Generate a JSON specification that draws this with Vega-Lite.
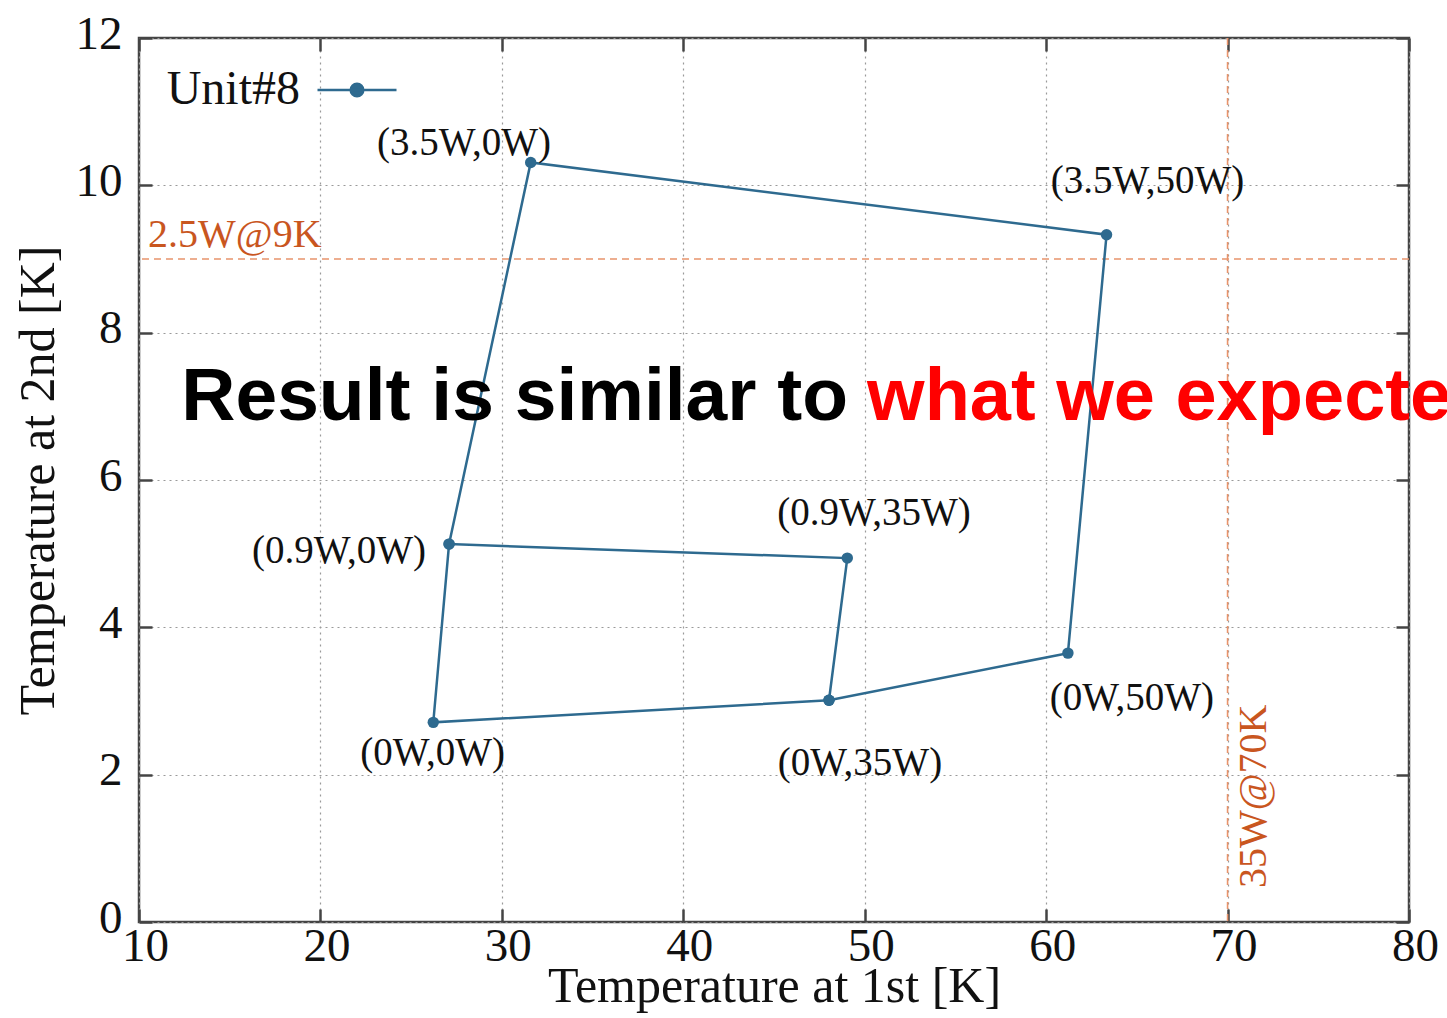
{
  "$schema": "https://vega.github.io/schema/vega-lite/v6.json",
  "width": 1270,
  "height": 884,
  "autosize": {"type": "none"},
  "padding": {"left": 139, "top": 38, "right": 38, "bottom": 96},
  "background": "white",
  "config": {
    "font": "Liberation Serif",
    "view": {"stroke": "#444", "strokeWidth": 2.5}
  },
  "datasets": {
    "pts": [
      {"seq": 1, "t1": 48.03, "t2": 3.01},
      {"seq": 2, "t1": 49.04, "t2": 4.94},
      {"seq": 3, "t1": 27.09, "t2": 5.13},
      {"seq": 4, "t1": 26.22, "t2": 2.71},
      {"seq": 5, "t1": 48.03, "t2": 3.01},
      {"seq": 6, "t1": 61.2, "t2": 3.65},
      {"seq": 7, "t1": 63.33, "t2": 9.33},
      {"seq": 8, "t1": 31.59, "t2": 10.31},
      {"seq": 9, "t1": 27.09, "t2": 5.13}
    ],
    "labels": [
      {"label": "(3.5W,0W)", "lx": 27.91, "ly": 10.41},
      {"label": "(3.5W,50W)", "lx": 65.59, "ly": 9.9},
      {"label": "(0.9W,0W)", "lx": 21.02, "ly": 4.87},
      {"label": "(0W,0W)", "lx": 26.18, "ly": 2.13},
      {"label": "(0.9W,35W)", "lx": 50.51, "ly": 5.39},
      {"label": "(0W,35W)", "lx": 49.74, "ly": 2.0},
      {"label": "(0W,50W)", "lx": 64.73, "ly": 2.88}
    ],
    "refs": [
      {"label": "2.5W@9K", "rx": 10.5, "ry": 9.16, "ang": 0},
      {"label": "35W@70K", "rx": 72.1, "ry": 0.46, "ang": 270}
    ],
    "hline": [{"v": 9}],
    "vline": [{"v": 70}],
    "overlayBlack": [{"txt": "Result is similar to", "ox": 12.33, "oy": 6.814}],
    "overlayRed": [{"txt": "what we expected", "ox": 50.13, "oy": 6.814}]
  },
  "resolve": {"axis": {"x": "independent", "y": "independent"}},
  "layer": [
    {
      "data": {"name": "hline"},
      "mark": {"type": "rule", "color": "#e8946c", "strokeWidth": 1.6, "strokeDash": [7, 5]},
      "encoding": {"y": {"field": "v", "type": "quantitative", "scale": {"domain": [0, 12], "nice": false}, "axis": null}}
    },
    {
      "data": {"name": "vline"},
      "mark": {"type": "rule", "color": "#e8946c", "strokeWidth": 1.6, "strokeDash": [7, 5]},
      "encoding": {"x": {"field": "v", "type": "quantitative", "scale": {"domain": [10, 80], "nice": false, "zero": false}, "axis": null}}
    },
    {
      "data": {"name": "pts"},
      "mark": {"type": "line", "strokeWidth": 2.5, "point": {"filled": true, "size": 130}},
      "encoding": {
        "x": {
          "field": "t1", "type": "quantitative",
          "scale": {"domain": [10, 80], "nice": false, "zero": false},
          "axis": {
            "values": [10, 20, 30, 40, 50, 60, 70, 80],
            "grid": true, "gridColor": "#9a9a9a", "gridDash": [2, 4], "gridWidth": 1.2,
            "domain": false, "ticks": true, "tickSize": -13, "tickWidth": 2.5, "tickColor": "#444",
            "labelFont": "Liberation Serif", "labelFontSize": 47, "labelColor": "#111",
            "labelBaseline": "alphabetic", "labelPadding": 51, "labelOffset": 6, "labelFlush": false,
            "title": "Temperature at 1st [K]", "titleFont": "Liberation Serif", "titleFontSize": 50,
            "titleFontWeight": "normal", "titleColor": "#111", "titleBaseline": "alphabetic", "titleY": 79
          }
        },
        "y": {
          "field": "t2", "type": "quantitative",
          "scale": {"domain": [0, 12], "nice": false},
          "axis": {
            "values": [0, 2, 4, 6, 8, 10, 12],
            "grid": true, "gridColor": "#9a9a9a", "gridDash": [2, 4], "gridWidth": 1.2,
            "domain": false, "ticks": true, "tickSize": -13, "tickWidth": 2.5, "tickColor": "#444",
            "labelFont": "Liberation Serif", "labelFontSize": 47, "labelColor": "#111",
            "labelBaseline": "alphabetic", "labelAlign": "right", "labelPadding": 30, "labelOffset": 10, "labelFlush": false,
            "title": "Temperature at 2nd [K]", "titleFont": "Liberation Serif", "titleFontSize": 50,
            "titleFontWeight": "normal", "titleColor": "#111", "titleBaseline": "alphabetic", "titleAngle": 270, "titleX": -86
          }
        },
        "order": {"field": "seq"},
        "color": {
          "datum": "Unit#8", "type": "nominal",
          "scale": {"range": ["#2e6a8f"]},
          "legend": {
            "orient": "none", "legendX": 177, "legendY": 11, "title": null, "padding": 0,
            "labelFont": "Liberation Serif", "labelFontSize": 48, "labelColor": "#111",
            "labelAlign": "right", "labelBaseline": "middle", "labelOffset": -98,
            "symbolType": "M-1,0H1M0.16,0A0.16,0.16,0,1,1,-0.16,0A0.16,0.16,0,1,1,0.16,0",
            "symbolSize": 6241, "symbolStrokeWidth": 2.5,
            "symbolFillColor": "#2e6a8f", "symbolStrokeColor": "#2e6a8f"
          }
        }
      }
    },
    {
      "data": {"name": "labels"},
      "mark": {"type": "text", "font": "Liberation Serif", "fontSize": 39, "color": "#111", "align": "center", "baseline": "alphabetic"},
      "encoding": {
        "x": {
          "field": "lx", "type": "quantitative",
          "scale": {"domain": [10, 80], "nice": false, "zero": false},
          "axis": {"orient": "top", "values": [10, 20, 30, 40, 50, 60, 70, 80], "labels": false, "domain": false, "grid": false,
                   "ticks": true, "tickSize": -13, "tickWidth": 2.5, "tickColor": "#444", "title": null}
        },
        "y": {
          "field": "ly", "type": "quantitative",
          "scale": {"domain": [0, 12], "nice": false},
          "axis": {"orient": "right", "values": [0, 2, 4, 6, 8, 10, 12], "labels": false, "domain": false, "grid": false,
                   "ticks": true, "tickSize": -13, "tickWidth": 2.5, "tickColor": "#444", "title": null}
        },
        "text": {"field": "label"}
      }
    },
    {
      "data": {"name": "refs"},
      "mark": {"type": "text", "font": "Liberation Serif", "fontSize": 40, "color": "#c9561f", "align": "left", "baseline": "alphabetic"},
      "encoding": {
        "x": {"field": "rx", "type": "quantitative", "axis": null},
        "y": {"field": "ry", "type": "quantitative", "axis": null},
        "angle": {"field": "ang", "type": "quantitative", "scale": null},
        "text": {"field": "label"}
      }
    },
    {
      "data": {"name": "overlayBlack"},
      "mark": {"type": "text", "font": "Liberation Sans", "fontWeight": "bold", "fontSize": 75, "color": "black", "align": "left", "baseline": "alphabetic"},
      "encoding": {
        "x": {"field": "ox", "type": "quantitative", "axis": null},
        "y": {"field": "oy", "type": "quantitative", "axis": null},
        "text": {"field": "txt"}
      }
    },
    {
      "data": {"name": "overlayRed"},
      "mark": {"type": "text", "font": "Liberation Sans", "fontWeight": "bold", "fontSize": 74, "color": "#ff0000", "align": "left", "baseline": "alphabetic"},
      "encoding": {
        "x": {"field": "ox", "type": "quantitative", "axis": null},
        "y": {"field": "oy", "type": "quantitative", "axis": null},
        "text": {"field": "txt"}
      }
    }
  ]
}
